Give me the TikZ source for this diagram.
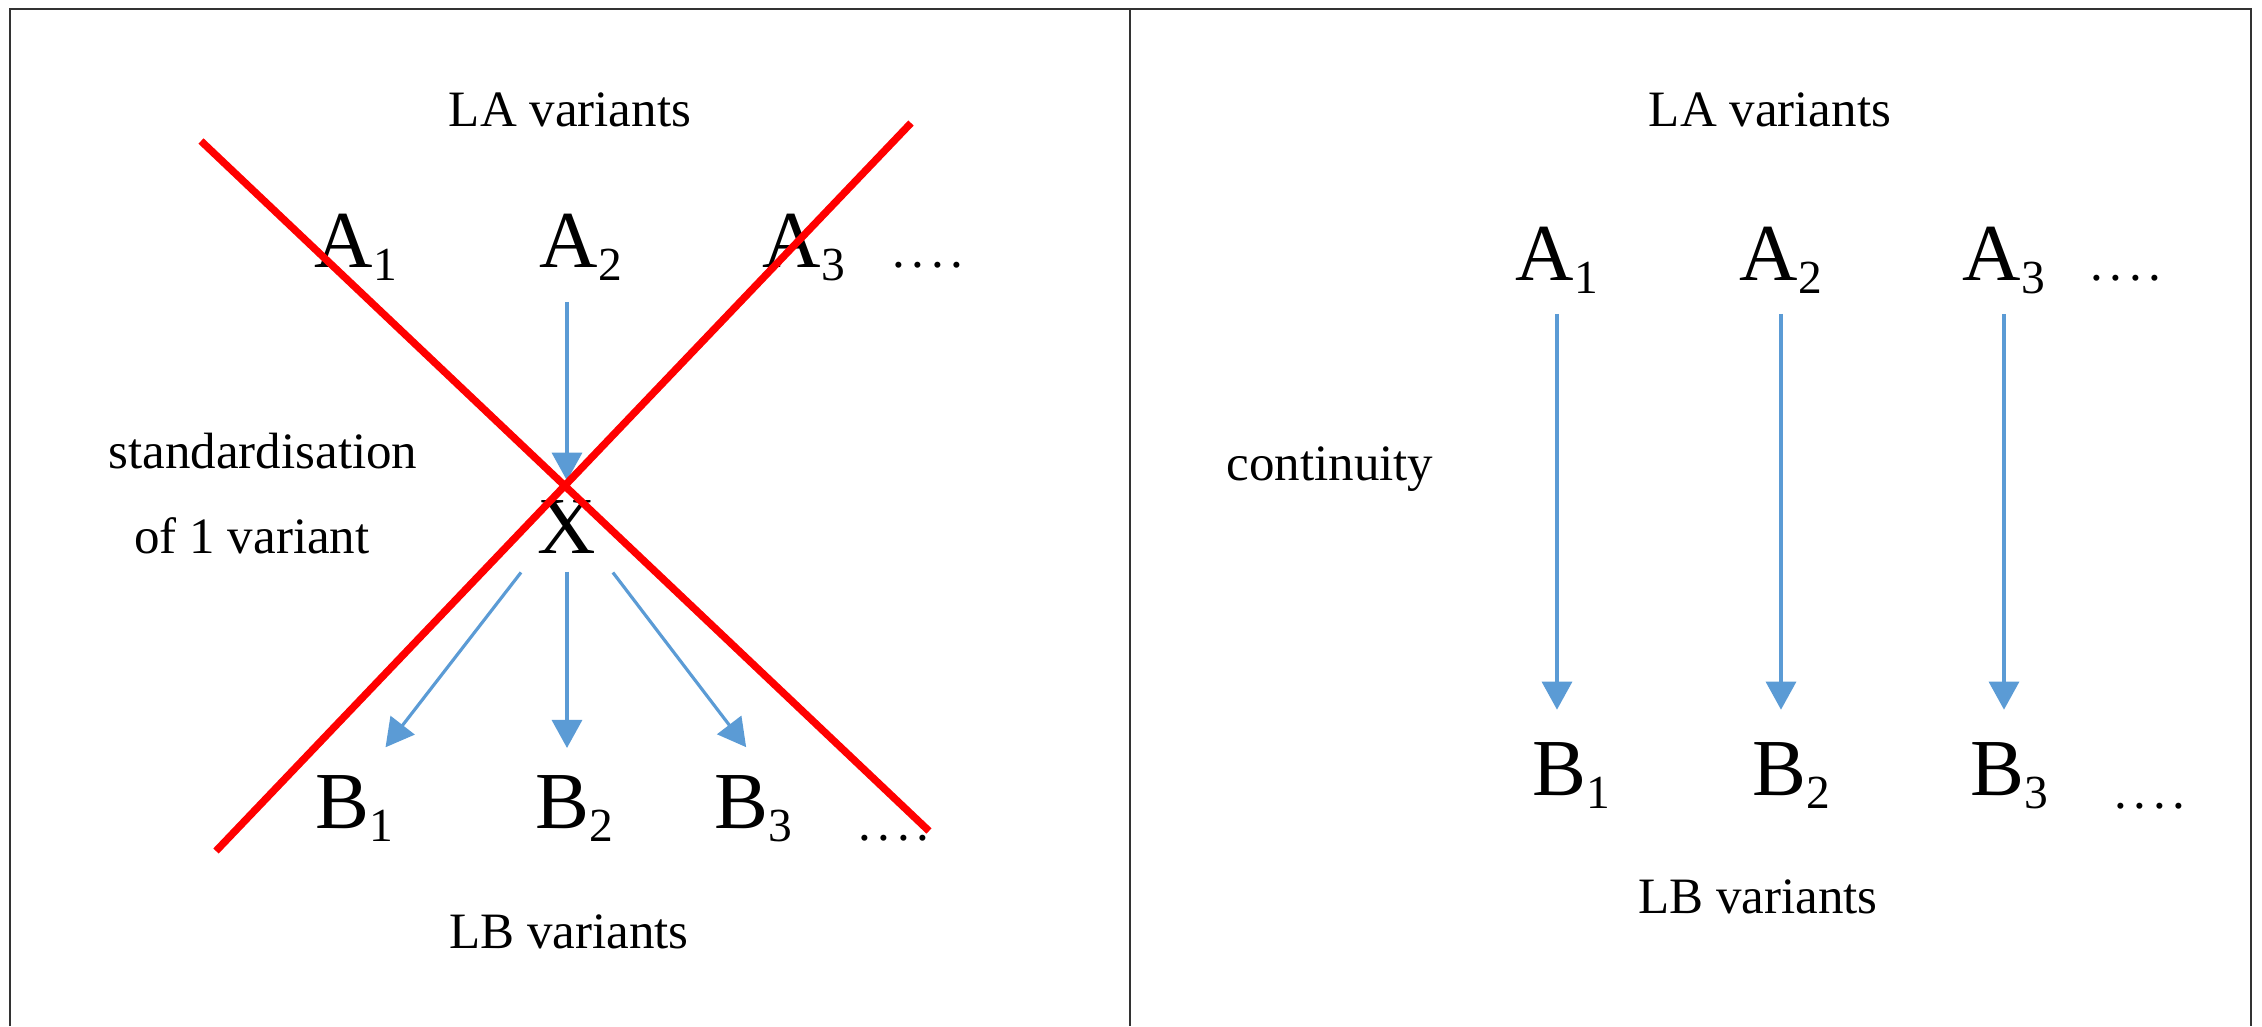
\documentclass[tikz,border=0pt]{standalone}
\usepackage{fontspec}
\setmainfont{Liberation Serif}
\usepackage{tikz}
\usetikzlibrary{arrows.meta}
\definecolor{arrblue}{HTML}{5B9BD5}
\definecolor{crossred}{HTML}{FF0000}
\definecolor{framegray}{HTML}{333333}
\newcommand{\varsub}[1]{\raisebox{-3.7pt}{\fontsize{13.5}{14}\selectfont #1}}
\newcommand{\dotrow}{.\kern1.9pt.\kern1.9pt.\kern1.9pt.}

\begin{document}
\begin{tikzpicture}[x=0.01cm, y=-0.01cm,
  varlbl/.style={font=\fontsize{14.5}{16}\selectfont, anchor=base, inner sep=0pt},
  varsym/.style={font=\fontsize{23}{26}\selectfont, anchor=base, inner sep=2pt},
  moredots/.style={font=\fontsize{14.5}{16}\selectfont, anchor=base, inner sep=0pt},
  flowarr/.style={arrblue, line width=0.9pt, -{Triangle[length=2.8mm, width=3mm]}},
  crossline/.style={crossred, line width=2.1pt},
]
\useasboundingbox (0,0) rectangle (2262,1026);
\draw[framegray, line width=0.6pt] (10,1026) -- (10,9) -- (2251,9) -- (2251,1026);
\draw[framegray, line width=0.6pt] (1130,9) -- (1130,1026);

% left panel: standardisation
\node[varlbl] (lla) at (570,126) {LA variants};
\node[varlbl] (llb) at (569,948) {LB variants};
\node[varlbl] (lstd) at (263,468) {standardisation};
\node[varlbl] (lone) at (252,553) {of 1 variant};
\foreach \i/\ax/\bx in {1/356/354, 2/581/574, 3/804/753} {
  \node[varsym] (la\i) at (\ax,267) {A\varsub{\i}};
  \node[varsym] (lb\i) at (\bx,828) {B\varsub{\i}};
}
\node[moredots] (ladots) at (928,267) {\dotrow};
\node[moredots] (lbdots) at (894,840) {\dotrow};
\node[varsym] (lx) at (567,553) {X};
\draw[flowarr, shorten <=4pt, shorten >=3.3pt] (lx.north |- la2.south) -- (lx.north);
\draw[flowarr, shorten <=4.2pt, shorten >=7.2pt] (lx.south west) -- ([xshift=1.6mm]lb1.north);
\draw[flowarr, shorten <=3.1pt, shorten >=5.5pt] (lx.south) -- (lx.south |- lb2.north);
\draw[flowarr, shorten <=4.2pt, shorten >=7.2pt] (lx.south east) -- ([xshift=0.85mm]lb3.north);
\draw[crossline] (201,141) -- (929,831);
\draw[crossline] (216,851) -- (911,123);

% right panel: continuity
\node[varlbl] (rla) at (1770,126) {LA variants};
\node[varlbl] (rlb) at (1758,913) {LB variants};
\node[varlbl] (rcont) at (1330,480) {continuity};
\foreach \i/\ax/\bx in {1/1557/1571, 2/1781/1791, 3/2004/2009} {
  \node[varsym] (ra\i) at (\ax,280) {A\varsub{\i}};
  \node[varsym] (rb\i) at (\bx,795) {B\varsub{\i}};
  \draw[flowarr, shorten <=3.7pt, shorten >=7pt] (ra\i.south) -- (ra\i.south |- rb\i.north);
}
\node[moredots] (radots) at (2126,280) {\dotrow};
\node[moredots] (rbdots) at (2150,808) {\dotrow};
\end{tikzpicture}
\end{document}
